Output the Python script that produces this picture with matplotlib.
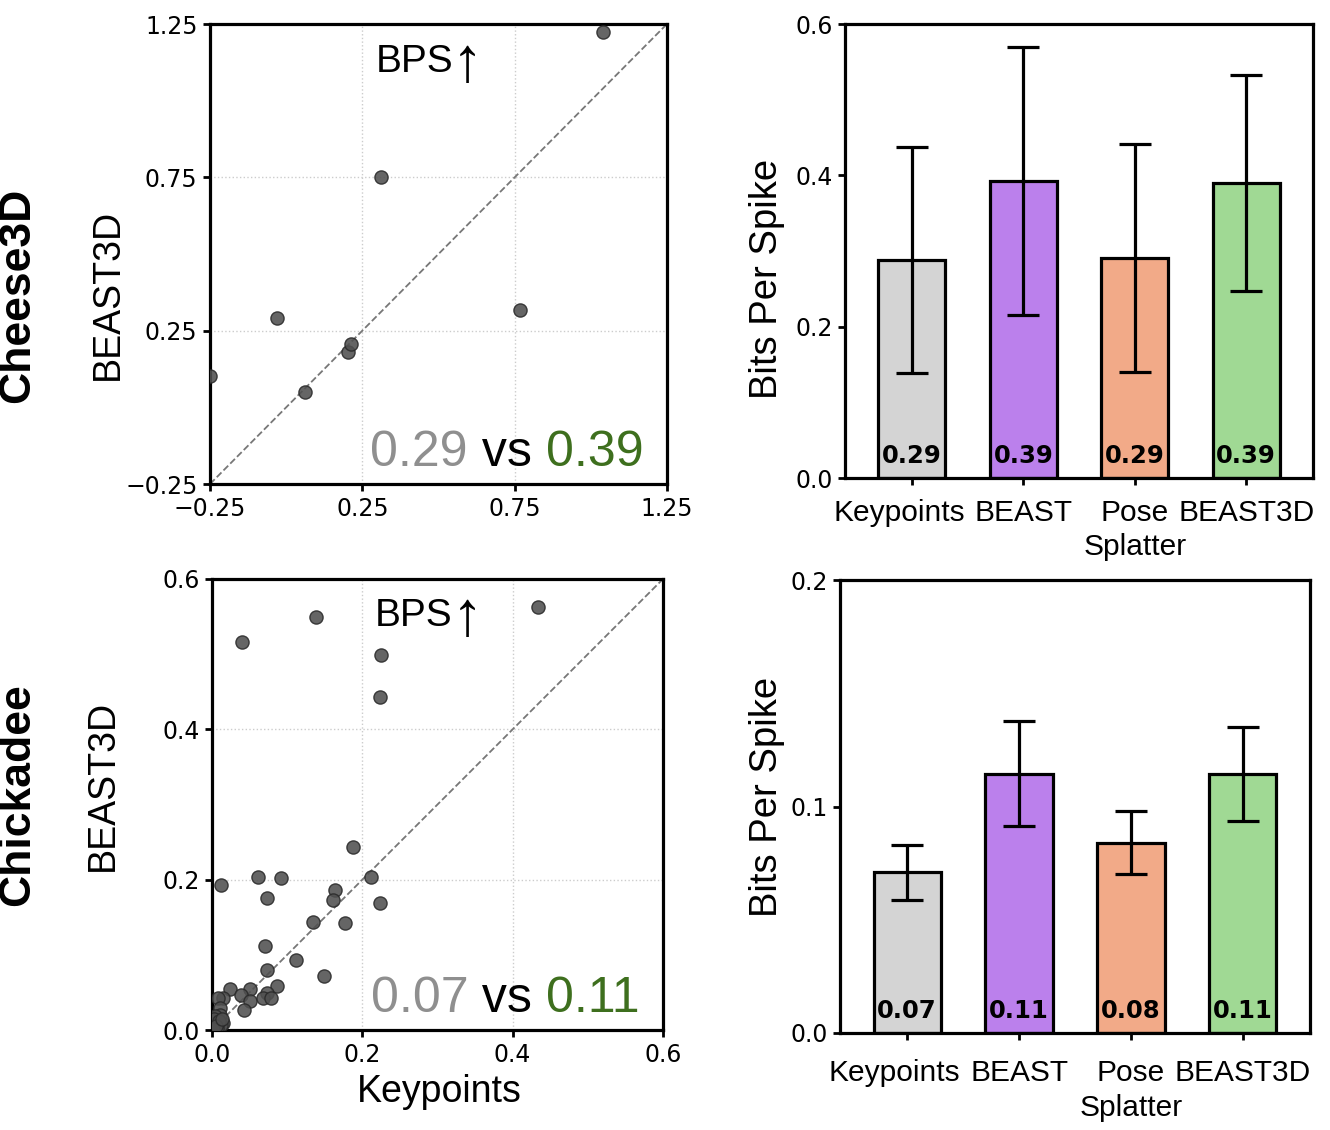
import matplotlib.pyplot as plt
from matplotlib.transforms import blended_transform_factory, ScaledTranslation

sans = ['Liberation Sans', 'DejaVu Sans']

# Cheese3D per-neuron bits per spike (x: Keypoints, y: BEAST3D)
cheese_kp = [-0.25, -0.03, 0.062, 0.203, 0.213, 0.311, 0.767, 1.04]
cheese_b3d = [0.102, 0.291, 0.050, 0.181, 0.207, 0.751, 0.317, 1.224]

# Chickadee per-neuron bits per spike
chick_kp = [0.040, 0.138, 0.225, 0.224, 0.434, 0.012, 0.061, 0.092, 0.073, 0.188,
            0.164, 0.161, 0.212, 0.224, 0.134, 0.177, 0.071, 0.112, 0.073, 0.149,
            0.086, 0.050, 0.024, 0.015, 0.039, 0.051, 0.073, 0.068, 0.079, 0.043,
            0.008, 0.011, 0.008, 0.004, 0.015, 0.002, 0.010, 0.005, 0.003, 0.006,
            0.001, 0.004, 0.012, 0.002, 0.007, 0.003, 0.009, 0.001, 0.005, 0.013]
chick_b3d = [0.516, 0.549, 0.499, 0.443, 0.563, 0.193, 0.204, 0.202, 0.176, 0.243,
             0.186, 0.173, 0.204, 0.169, 0.144, 0.142, 0.112, 0.093, 0.080, 0.072,
             0.059, 0.055, 0.055, 0.042, 0.046, 0.039, 0.049, 0.042, 0.042, 0.027,
             0.042, 0.029, 0.016, 0.007, 0.009, 0.002, 0.020, 0.012, 0.004, 0.010,
             0.003, 0.018, 0.006, 0.008, 0.003, 0.014, 0.012, 0.001, 0.005, 0.015]

methods = ['Keypoints', 'BEAST', 'Pose\nSplatter', 'BEAST3D']
bar_colors = ['#d4d4d4', '#bb80ec', '#f2aa88', '#a0d994']
cheese_bps = [0.288, 0.393, 0.291, 0.390]
cheese_err = [0.149, 0.177, 0.151, 0.143]
chick_bps = [0.0709, 0.1145, 0.0841, 0.1145]
chick_err = [0.012, 0.0233, 0.0139, 0.0207]

fig = plt.figure(figsize=(13.3, 11.3), dpi=100)

def px_axes(l, t, r, b):
    W, H = 1330, 1130
    return fig.add_axes([l / W, 1 - b / H, (r - l) / W, (b - t) / H])

def style(ax):
    for s in ax.spines.values():
        s.set_linewidth(2.3)
    ax.tick_params(width=2, length=5, labelsize=17, pad=4)

def scatter_panel(ax, x, y, lims, ticks, bps, ylab_pos):
    ax.scatter(x, y, s=90, c='#505050', alpha=0.88, edgecolors='#2a2a2a',
               linewidths=1, zorder=3)
    ax.plot(lims, lims, ls='--', color='#777777', lw=1.3, zorder=2)
    ax.set_xlim(lims)
    ax.set_ylim(lims)
    ax.set_xticks(ticks)
    ax.set_yticks(ticks)
    ax.grid(True, ls=':', color='#cccccc', lw=1)
    style(ax)
    ax.set_ylabel('BEAST3D', family=sans, fontsize=27, va='center')
    ax.yaxis.set_label_coords(*ylab_pos)
    t0 = ax.text(0.448, 0.917, 'BPS', transform=ax.transAxes, ha='center', va='center',
                 fontsize=28, family=sans)
    # thin arrow, a bit taller than the caps and dipping below the baseline
    ax.annotate('↑', xy=(1, 0), xycoords=t0, ha='left', va='bottom',
                fontsize=45, family=sans, xytext=(-1, -10),
                textcoords='offset points')
    t3 = ax.text(0.948, 0.04, f'{bps[3]:.2f}', transform=ax.transAxes, ha='right',
                 va='baseline', fontsize=36, family=sans, color='#3e6f1e')
    t2 = ax.annotate(' vs ', xy=(0, 0), xycoords=t3, ha='right', va='bottom',
                     fontsize=36, family=sans, color='black')
    ax.annotate(f'{bps[0]:.2f}', xy=(0, 0), xycoords=t2, ha='right', va='bottom',
                fontsize=36, family=sans, color='#8f8f8f')

def bar_panel(ax, vals, errs, ymax, yticks, ylab_pos, xpad):
    pos = range(len(methods))
    ax.bar(pos, vals, width=0.6, color=bar_colors, edgecolor='black', linewidth=2.3,
           zorder=2)
    ax.errorbar(pos, vals, yerr=errs, fmt='none', ecolor='black', elinewidth=2.3,
                capsize=11.5, capthick=2.3, zorder=3)
    tr = blended_transform_factory(ax.transData, ax.transAxes)
    for p, v in zip(pos, vals):
        ax.text(p, 0.033, f'{v:.2f}', transform=tr, ha='center', va='baseline',
                fontsize=17.5, fontweight='bold', zorder=4)
    ax.set_xlim(-0.6, 3.6)
    ax.set_ylim(0, ymax)
    ax.set_yticks(yticks)
    ax.set_xticks(list(pos))
    style(ax)
    ax.tick_params(axis='x', pad=xpad)
    ax.set_xticklabels(methods, family=sans, fontsize=21.5, linespacing=1.3)
    lab = ax.get_xticklabels()[0]
    lab.set_transform(lab.get_transform() + ScaledTranslation(-0.13, 0, fig.dpi_scale_trans))
    ax.set_ylabel('Bits Per Spike', family=sans, fontsize=27.5, va='center')
    ax.yaxis.set_label_coords(*ylab_pos)

ax1 = px_axes(210, 24, 667, 484)
scatter_panel(ax1, cheese_kp, cheese_b3d, [-0.25, 1.25], [-0.25, 0.25, 0.75, 1.25],
              cheese_bps, (-0.223, 0.413))

ax3 = px_axes(212, 579, 663, 1030)
scatter_panel(ax3, chick_kp, chick_b3d, [0.0, 0.6], [0.0, 0.2, 0.4, 0.6],
              chick_bps, (-0.242, 0.543))
ax3.set_xlabel('Keypoints', family=sans, fontsize=27, va='center')
ax3.xaxis.set_label_coords(0.505, -0.137)

ax2 = px_axes(845, 24, 1313, 478)
bar_panel(ax2, cheese_bps, cheese_err, 0.6, [0.0, 0.2, 0.4, 0.6], (-0.167, 0.438), 10)

ax4 = px_axes(840, 580, 1310, 1033)
bar_panel(ax4, chick_bps, chick_err, 0.2, [0.0, 0.1, 0.2], (-0.155, 0.522), 14)

fig.text(18 / 1330, 1 - 295 / 1130, 'Cheese3D', rotation=90, ha='center', va='center',
         fontsize=32, fontweight='bold', family=sans)
fig.text(18 / 1330, 1 - 795 / 1130, 'Chickadee', rotation=90, ha='center', va='center',
         fontsize=32, fontweight='bold', family=sans)

fig.savefig('out.png', dpi=100)
